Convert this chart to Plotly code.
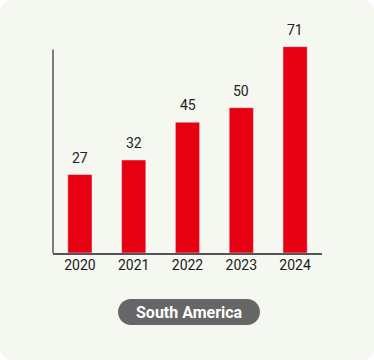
import plotly.graph_objects as go

years = ["2020", "2021", "2022", "2023", "2024"]
values = [27, 32, 45, 50, 71]
region = "South America"

W, H = 374, 360
L, R, T, B = 53, 52, 35, 107
PW, PH = W - L - R, H - T - B

def px_to_paper(x, y):
    return (x - L) / PW, (H - B - y) / PH

def rounded_rect(x0, y0, x1, y1, r):
    k = 0.5523
    left, top = px_to_paper(x0, y0)
    right, bot = px_to_paper(x1, y1)
    rx, ry = r / PW, r / PH
    p = f"M {left+rx},{top} L {right-rx},{top} "
    p += f"C {right-rx+k*rx},{top} {right},{top-ry+k*ry} {right},{top-ry} "
    p += f"L {right},{bot+ry} "
    p += f"C {right},{bot+ry-k*ry} {right-rx+k*rx},{bot} {right-rx},{bot} "
    p += f"L {left+rx},{bot} "
    p += f"C {left+rx-k*rx},{bot} {left},{bot+ry-k*ry} {left},{bot+ry} "
    p += f"L {left},{top-ry} "
    p += f"C {left},{top-ry+k*ry} {left+rx-k*rx},{top} {left+rx},{top} Z"
    return p

fig = go.Figure(go.Bar(
    x=years, y=values, marker_color="#e60012", width=0.45,
    hoverinfo="skip",
))

shapes = [
    dict(type="path", xref="paper", yref="paper", layer="below",
         path=rounded_rect(0, 0, W, H, 11), fillcolor="#f5f7f1", line_width=0),
    dict(type="line", xref="paper", yref="y", x0=0, x1=0, y0=0, y1=70,
         line=dict(color="#555555", width=1.5)),
    dict(type="path", xref="paper", yref="paper",
         path=rounded_rect(118, 299, 260, 325, 13), fillcolor="#666666", line_width=0),
]

annotations = [dict(x=i, y=v, xref="x", yref="y", text=str(v), showarrow=False,
                    yanchor="bottom", yshift=7,
                    font=dict(size=14, color="#222222", family="Roboto"))
               for i, v in enumerate(values)]

cx, cy = px_to_paper(189, 312)
annotations.append(dict(xref="paper", yref="paper", x=cx, y=cy, text=f"<b>{region}</b>",
                        showarrow=False, font=dict(size=16, color="white", family="Roboto"),
                        xanchor="center", yanchor="middle"))

fig.update_layout(
    width=W, height=H,
    margin=dict(l=L, r=R, t=T, b=B),
    paper_bgcolor="white", plot_bgcolor="rgba(0,0,0,0)",
    font=dict(family="Roboto", color="#222222"),
    showlegend=False,
    xaxis=dict(type="category", showline=True, linecolor="#555555", linewidth=1.5, ticks="",
               ticklabelstandoff=-2,
               tickfont=dict(size=14, color="#1a1a1a"), showgrid=False, fixedrange=True),
    yaxis=dict(range=[0, 75], visible=False, showgrid=False, fixedrange=True),
    shapes=shapes,
    annotations=annotations,
)

fig.write_html("out.html", post_script="document.body.style.margin='0';",
               config={"displayModeBar": False})
